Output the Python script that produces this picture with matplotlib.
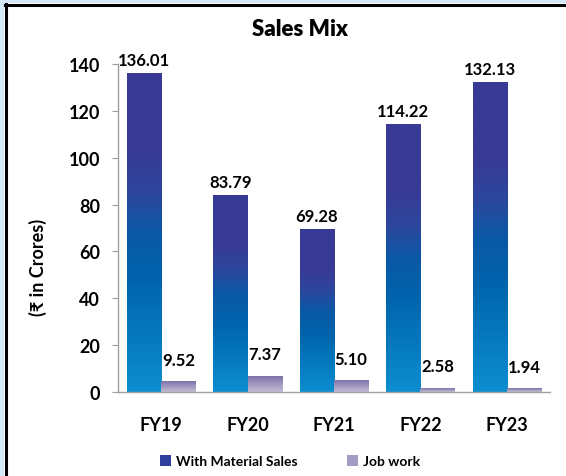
import numpy as np
import matplotlib
matplotlib.use("Agg")
import matplotlib.pyplot as plt
from matplotlib.colors import LinearSegmentedColormap
from matplotlib.patches import Patch
from matplotlib.lines import Line2D

years = ["FY19", "FY20", "FY21", "FY22", "FY23"]
material_sales = [136.01, 83.79, 69.28, 114.22, 132.13]
job_work = [9.52, 7.37, 5.10, 2.58, 1.94]
# job work bars as drawn in the source picture (they don't follow the labels)
job_work_bars = [4.3, 6.8, 4.7, 1.7, 1.3]

plt.rcParams['font.family'] = ['Lato', 'DejaVu Sans']
plt.rcParams['font.weight'] = 'bold'

blue_cmap = LinearSegmentedColormap.from_list(
    "blu", [(0, "#0C8ED0"), (0.35, "#0064AC"), (0.5, "#0A58A6"),
            (0.62, "#2C479C"), (0.75, "#383A96"), (1, "#393A95")])
job_cmap = LinearSegmentedColormap.from_list(
    "job", [(0, "#C6BED6"), (1, "#7C72A8")])

fig = plt.figure(figsize=(5.66, 4.77), dpi=100)
ax = fig.add_axes([118/566, 1-393/477, 432/566, 328/477])

w = 0.395
grad = np.linspace(0, 1, 256).reshape(-1, 1)
x = np.arange(len(years))
for i in range(len(years)):
    x0 = x[i] - w
    ax.imshow(grad, extent=[x0, x0 + w, 0, material_sales[i]], aspect='auto',
              cmap=blue_cmap, origin='lower', zorder=2)
    ax.imshow(grad, extent=[x[i], x[i] + w, 0, job_work_bars[i]], aspect='auto',
              cmap=job_cmap, origin='lower', zorder=2)
    ax.annotate(f"{material_sales[i]:.2f}", (x0 + w/2, material_sales[i]),
                xytext=(0, 4), textcoords='offset points', ha='center', va='bottom',
                fontsize=12, fontweight='bold')
    ax.annotate(f"{job_work[i]:.2f}", (x[i] + w/2, job_work_bars[i]),
                xytext=(0, 10), textcoords='offset points', ha='center', va='bottom',
                fontsize=12, fontweight='bold')

ax.set_xlim(-0.5, len(years) - 0.5)
ax.set_ylim(0, 140)
ax.set_yticks(range(0, 141, 20))
ax.set_xticks(x)
ax.set_xticklabels(years, fontsize=13, fontweight='bold')
ax.tick_params(axis='y', labelsize=13, length=4, color='#A0A0A0', pad=9)
ax.tick_params(axis='x', length=0, pad=17)
for s in ['top', 'right']:
    ax.spines[s].set_visible(False)
for s in ['left', 'bottom']:
    ax.spines[s].set_color('#A0A0A0')
    ax.spines[s].set_linewidth(1)

fig.text(300/566, 1-30/477, "Sales Mix", ha='center', va='center', fontsize=16, fontweight='heavy')
fig.text(38/566, 1-267/477, "(₹ in Crores)", rotation=90, ha='center', va='center',
         fontsize=13, fontweight='bold')

handles = [Patch(facecolor="#2E3F9C", label="With Material Sales"),
           Patch(facecolor="#A39BC2", label="Job work")]
fig.legend(handles=handles, loc='center', bbox_to_anchor=(290/566, 1-462/477), ncol=2,
           frameon=False, fontsize=10, handlelength=0.8, handleheight=0.8,
           handletextpad=0.3, columnspacing=3.6)

# frame around the chart
fig.add_artist(Line2D([0, 1], [1-1.5/477, 1-1.5/477], color="#D3E9F8", lw=3))
fig.add_artist(Line2D([1.5/566, 1.5/566], [0, 1], color="#D3E9F8", lw=3))
fig.add_artist(Line2D([5/566, 1], [1-5.5/477, 1-5.5/477], color="black", lw=2.2))
fig.add_artist(Line2D([5.5/566, 5.5/566], [0, 1-5/477], color="black", lw=2.2))

fig.savefig("out.png", dpi=100)
